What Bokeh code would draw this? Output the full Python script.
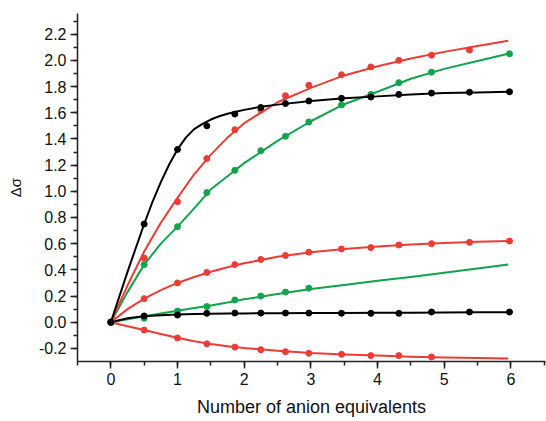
from bokeh.plotting import figure
from bokeh.models import Range1d, SingleIntervalTicker, PrintfTickFormatter
from bokeh.embed import file_html
from bokeh.resources import INLINE

# ---- data ----
x_pts = [0, 0.5, 1.0, 1.44, 1.86, 2.25, 2.62, 2.97, 3.46, 3.90, 4.32, 4.81, 5.38, 5.98]

black_hi = [0, 0.75, 1.32, 1.50, 1.59, 1.64, 1.67, 1.69, 1.71, 1.72, 1.74, 1.75, 1.757, 1.76]
red_hi = [0, 0.49, 0.92, 1.25, 1.47, 1.62, 1.73, 1.81, 1.89, 1.95, 2.00, 2.04, 2.08]
green_hi_x = [0, 0.5, 1.0, 1.44, 1.86, 2.25, 2.62, 2.97, 3.46, 3.90, 4.32, 4.81, 5.98]
green_hi = [0, 0.44, 0.73, 0.99, 1.16, 1.31, 1.42, 1.53, 1.66, 1.74, 1.83, 1.91, 2.05]
red_mid = [0, 0.18, 0.30, 0.38, 0.44, 0.48, 0.51, 0.535, 0.56, 0.57, 0.59, 0.60, 0.61, 0.62]
green_lo = [0, 0.03, 0.085, 0.12, 0.17, 0.20, 0.23, 0.26]
black_lo = [0, 0.048, 0.055, 0.068, 0.07, 0.07, 0.07, 0.07, 0.068, 0.068, 0.068, 0.078, 0.078, 0.078]
red_neg = [0, -0.06, -0.12, -0.165, -0.19, -0.21, -0.225, -0.237, -0.245, -0.255, -0.255, -0.265]

# fitted curves
black_fit_x = [0, 0.25, 0.5, 0.625, 0.75, 0.875, 1.0, 1.125, 1.25, 1.375, 1.5, 1.625, 1.75,
               1.875, 2.0, 2.25, 2.5, 3.0, 3.5, 4.0, 4.5, 5.0, 5.5, 5.96]
black_hi_fit = [0, 0.385, 0.75, 0.92, 1.07, 1.205, 1.32, 1.41, 1.475, 1.515, 1.548, 1.573, 1.592,
                1.608, 1.622, 1.645, 1.662, 1.69, 1.71, 1.725, 1.74, 1.75, 1.755, 1.76]
fit_x = [0, 0.25, 0.5, 0.75, 1.0, 1.25, 1.5, 1.75, 2.0, 2.5, 3.0, 3.5, 4.0, 4.5, 5.0, 5.5, 5.96]
red_hi_fit = [0, 0.28, 0.54, 0.76, 0.95, 1.13, 1.28, 1.41, 1.52, 1.68, 1.79, 1.885, 1.955, 2.015, 2.065, 2.11, 2.15]
green_hi_fit = [0, 0.23, 0.44, 0.60, 0.73, 0.87, 1.015, 1.115, 1.215, 1.385, 1.535, 1.665, 1.76, 1.86, 1.935, 1.995, 2.05]
red_mid_fit = [0, 0.10, 0.18, 0.245, 0.30, 0.345, 0.385, 0.42, 0.45, 0.50, 0.535, 0.56, 0.578, 0.594, 0.605, 0.614, 0.62]
green_lo_fit = [0, 0.023, 0.045, 0.066, 0.087, 0.108, 0.128, 0.15, 0.175, 0.215, 0.253, 0.285, 0.316, 0.345, 0.378, 0.41, 0.44]
black_lo_fit = [0, 0.03, 0.046, 0.054, 0.059, 0.062, 0.064, 0.066, 0.067, 0.069, 0.07, 0.071, 0.072, 0.073, 0.075, 0.076, 0.077]
red_neg_fit = [0, -0.031, -0.06, -0.09, -0.118, -0.145, -0.167, -0.183, -0.197, -0.218, -0.235, -0.246, -0.255, -0.263, -0.269, -0.274, -0.277]

BLACK = "#000000"
RED = "#EF3B36"
GREEN = "#10A54A"
FONT = "Liberation Sans"

p = figure(width=546, height=421, output_backend="svg", toolbar_location=None,
           x_range=Range1d(-0.5, 6.52), y_range=Range1d(-0.30, 2.358),
           min_border_left=77, min_border_right=1, min_border_top=13, min_border_bottom=60)
p.outline_line_color = None
p.xgrid.visible = False
p.ygrid.visible = False
p.background_fill_color = "white"
p.border_fill_color = "white"

fits = [
    (fit_x, green_lo_fit, GREEN),
    (fit_x, black_lo_fit, BLACK),
    (fit_x, red_neg_fit, RED),
    (fit_x, red_mid_fit, RED),
    (fit_x, green_hi_fit, GREEN),
    (fit_x, red_hi_fit, RED),
    (black_fit_x, black_hi_fit, BLACK),
]
for fx, fy, c in fits:
    p.line(fx, fy, line_color=c, line_width=2, line_join="round")

pts = [
    (x_pts[:len(green_lo)], green_lo, GREEN),
    (x_pts, black_lo, BLACK),
    (x_pts[:len(red_neg)], red_neg, RED),
    (x_pts, red_mid, RED),
    (green_hi_x, green_hi, GREEN),
    (x_pts[:len(red_hi)], red_hi, RED),
    (x_pts, black_hi, BLACK),
]
for px, py, c in pts:
    p.scatter(px, py, size=6, fill_color=c, line_color=c)

p.xaxis.ticker = SingleIntervalTicker(interval=1, num_minor_ticks=2)
p.yaxis.ticker = SingleIntervalTicker(interval=0.2, num_minor_ticks=2)
p.xaxis.formatter = PrintfTickFormatter(format="%d")
p.yaxis.formatter = PrintfTickFormatter(format="%.1f")

p.xaxis.axis_label = "Number of anion equivalents"
p.yaxis.axis_label = "Δσ"

for ax in (p.xaxis, p.yaxis):
    ax.axis_line_width = 1.5
    ax.axis_line_color = "#222222"
    ax.major_tick_line_width = 1.5
    ax.minor_tick_line_width = 1.5
    ax.major_tick_line_color = "#222222"
    ax.minor_tick_line_color = "#222222"
    ax.major_tick_out = 7
    ax.major_tick_in = 0
    ax.minor_tick_out = 4
    ax.minor_tick_in = 0
    ax.major_label_text_font = FONT
    ax.major_label_text_font_size = "16px"
    ax.major_label_text_color = "#111111"
    ax.axis_label_text_font = FONT
    ax.axis_label_text_font_style = "normal"
    ax.axis_label_text_color = "#111111"

p.xaxis.major_label_standoff = 4
p.yaxis.major_label_standoff = 4
p.xaxis.axis_label_text_font_size = "18px"
p.yaxis.axis_label_text_font_size = "15px"
p.xaxis.axis_label_standoff = 9
p.yaxis.axis_label_standoff = 12

open("out.html", "w").write(file_html(p, INLINE))
